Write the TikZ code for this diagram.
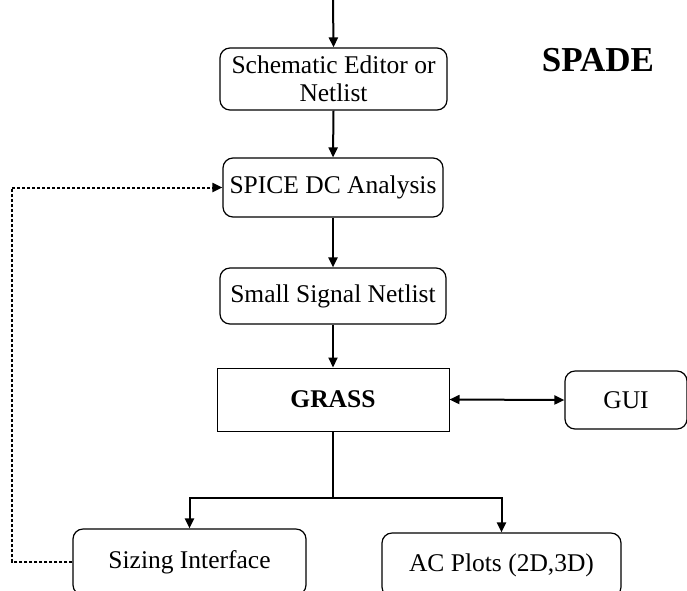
\documentclass[tikz,border=0pt]{standalone}
\usepackage{fontspec}
\setmainfont{Liberation Serif}
\usetikzlibrary{arrows.meta}
\begin{document}
\begin{tikzpicture}[x=1pt,y=-1pt,
  every node/.style={font=\fontsize{25.5}{28.5}\selectfont, align=center, inner sep=0pt},
  rbox/.style={draw, line width=1.2pt, rounded corners=10pt},
  sbox/.style={draw, line width=1pt},
  tip/.tip={Triangle[length=10pt,width=9pt]},
  conn/.style={line width=2pt, -tip},
  fb/.style={line width=2pt, dash pattern=on 3pt off 2pt, -tip}]
\useasboundingbox (0,0) rectangle (687,590);
\clip (0,0) rectangle (687,590);
\node[rbox, minimum width=227pt, minimum height=62pt] (sched) at (333.5,79) {Schematic Editor or\\Netlist};
\node[rbox, minimum width=220pt, minimum height=59pt] (spice) at (333,187.5) {SPICE DC Analysis};
\node[rbox, minimum width=226pt, minimum height=56pt] (small) at (333,296) {Small Signal Netlist};
\node[sbox, minimum width=232pt, minimum height=63pt] (grass) at (333,399.5) {\bfseries GRASS};
\node[rbox, minimum width=122pt, minimum height=58pt] (gui) at (626,400) {GUI};
\node[rbox, minimum width=233pt, minimum height=66pt] (sizing) at (189.5,562) {Sizing Interface};
\node[rbox, minimum width=239pt, minimum height=64pt] (ac) at (501.5,565) {AC Plots (2D,3D)};
\node[font=\fontsize{35}{40}\selectfont\bfseries] (spade) at (598,60) {SPADE};
\coordinate (in) at (333,0);
\coordinate (j) at (333,498);
\coordinate (fbc) at (12,562);
\draw[conn] (in) -- (sched.north);
\draw[conn] (sched.south) -- (spice.north);
\draw[conn] (spice.south) -- (small.north);
\draw[conn] (small.south) -- (grass.north);
\draw[line width=2pt, tip-tip] (grass.east) -- (gui.west);
\draw[line width=2pt] (grass.south) -- (j);
\draw[conn] (j) -| (sizing.north);
\draw[conn] (j) -| (ac.north);
\draw[fb] (sizing.west) -- (fbc) |- (spice.west);
\end{tikzpicture}
\end{document}
